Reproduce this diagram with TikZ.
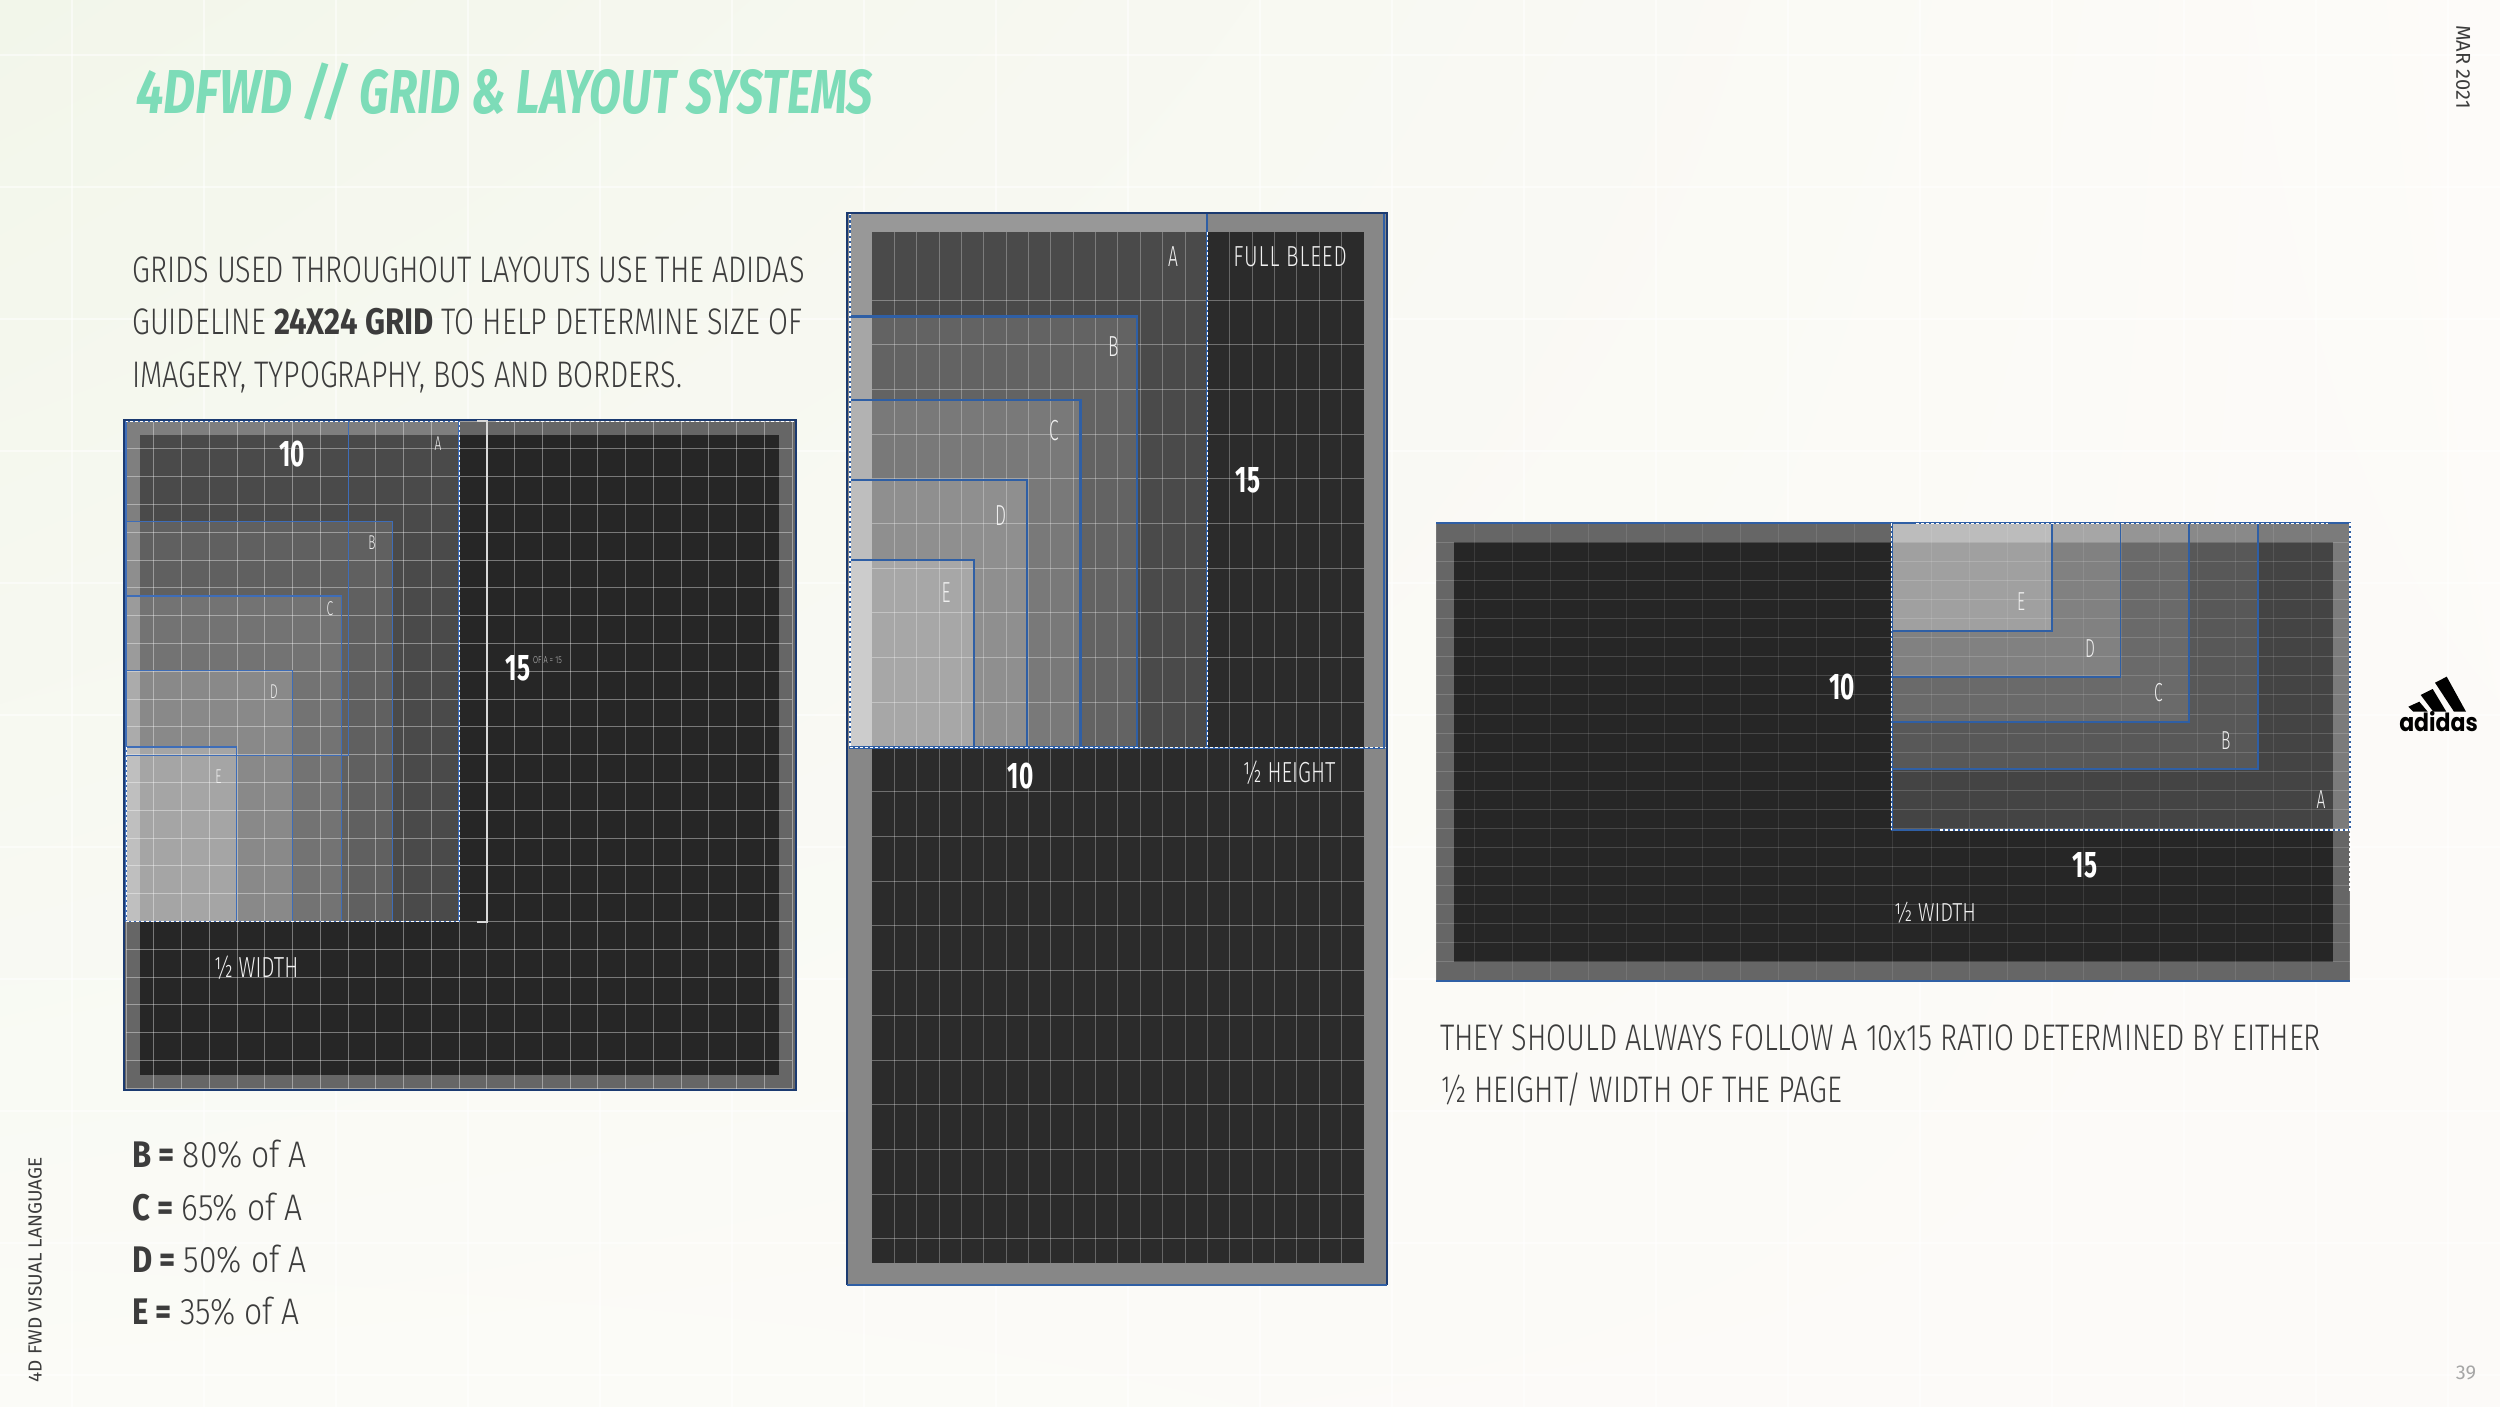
\documentclass[tikz,border=0pt]{standalone}
\usepackage{fontspec}
\setmainfont{Fira Sans}
\newfontfamily\thinfont[FakeStretch=0.78]{Fira Sans Light}
\newfontfamily\listfont[FakeStretch=0.86]{Fira Sans Light}
\newfontfamily\labelfont[FakeStretch=0.72]{Fira Sans Light}
\newfontfamily\letterfont[FakeStretch=0.60]{Fira Sans Light}
\newfontfamily\spacedfont[FakeStretch=0.72,LetterSpace=3]{Fira Sans Light}
\newfontfamily\titlefont[FakeStretch=0.748]{Fira Sans}
\newfontfamily\titleheavy[FakeStretch=0.80]{Fira Sans}
\newfontfamily\heavyfont[FakeStretch=0.84]{Fira Sans}
\newfontfamily\numfont[FakeStretch=0.66]{Fira Sans}
\newfontfamily\logofont[FakeStretch=0.88]{Poppins}
\usetikzlibrary{
    positioning,
    calc,
    shadings,
}
\definecolor{titlegreen}{HTML}{7DDCB8}
\definecolor{bodygrey}{HTML}{3C3C3C}
\definecolor{boxblue}{HTML}{2F5FA5}
\definecolor{thinblue}{HTML}{3E6DB8}
\definecolor{edgenavy}{HTML}{1B3A70}
\definecolor{labelwhite}{HTML}{F0F0F0}
\definecolor{pagetl}{HTML}{F2F6EA}
\definecolor{pagetr}{HTML}{FDFBF9}
\definecolor{pagebl}{HTML}{FBFBF7}
\definecolor{pagebr}{HTML}{FCFAF8}

\begin{document}
\begin{tikzpicture}[
    x=1pt, y=-1pt,
    label/.style={inner sep=0, text=labelwhite},
    number/.style={inner sep=0, text=white, font=\numfont\bfseries\fontsize{37}{37}\selectfont},
    bodytext/.style={inner sep=0, text=bodygrey, font=\thinfont\fontsize{37}{52.3}\selectfont, align=left},
    sidetext/.style={inner sep=0, text=bodygrey},
    bluebox/.style={draw=boxblue, line width=#1},
    dotline/.style={draw=white, line width=1.2pt, dash pattern=on 2.5pt off 2.5pt},
    ]

\useasboundingbox (0,0) rectangle (2500,1407);

% page background
\shade[upper left=pagetl, upper right=pagetr, lower left=pagebl, lower right=pagebr]
    (0,0) rectangle (2500,1407);
\foreach \x in {72,204,...,2500}
    \draw[white, opacity=.5, line width=1.5pt] (\x,0) -- (\x,1407);
\foreach \y in {55,187,...,1407}
    \draw[white, opacity=.5, line width=1.5pt] (0,\y) -- (2500,\y);

% title and texts
\node[inner sep=0, anchor=base west, text=titlegreen] at (136,114) (title)
    {\fontsize{62}{62}\selectfont\titleheavy\bfseries\itshape 4DFWD //
    \titlefont\itshape GRID \& LAYOUT SYSTEMS};

\node[bodytext, anchor=north west] at (132,256.5) (intro)
    {GRIDS USED THROUGHOUT LAYOUTS USE THE ADIDAS\\
    GUIDELINE {\heavyfont\bfseries 24X24 GRID} TO HELP DETERMINE SIZE OF\\
    IMAGERY, TYPOGRAPHY, BOS AND BORDERS.};

\foreach \ltr/\pct/\ypos in {B/80/1167.7, C/65/1220, D/50/1272.7, E/35/1324.3}
    \node[bodytext, anchor=base west] at (132,\ypos) (list\ltr)
        {{\heavyfont\bfseries \ltr\ =} {\listfont\pct\% of A}};

\node[bodytext, anchor=north west] at (1440,1024.5) (ratio)
    {THEY SHOULD ALWAYS FOLLOW A 10x15 RATIO DETERMINED BY EITHER\\
    ½ HEIGHT/ WIDTH OF THE PAGE};

\node[sidetext, rotate=-90, font=\fontsize{20}{20}\selectfont] at (2463,67) (month) {MAR 2021};
\node[sidetext, rotate=90, font=\fontsize{19}{19}\selectfont] at (35,1270) (footer) {4D FWD VISUAL LANGUAGE};
\node[inner sep=0, text=black!35, font=\fontsize{20}{20}\selectfont] at (2466,1373) (pageno) {39};

% left square
\fill[black!60] (124,420) rectangle (796,1090);
\fill[black!85] (140,435) rectangle (779,1075);
\foreach \xr/\ytop/\op in {459/421/.17, 392.5/521.7/.12, 341.5/596/.12, 292.8/670.4/.16, 236.8/747/.24}
    \fill[white, fill opacity=\op] (126,921.5) rectangle (\xr,\ytop);
\foreach \k in {0,...,24} {
    \draw[white, opacity=.38, line width=1pt] ({126.2+27.75*\k},421) -- ({126.2+27.75*\k},1089);
    \draw[white, opacity=.38, line width=1pt] (126,{421+27.8*\k}) -- (792,{421+27.8*\k});
}
\draw[thinblue, line width=1.3pt] (126,421) rectangle (348.4,755.8);
\foreach \xr/\ytop in {459/421, 392.5/521.7, 341.5/596, 292.8/670.4, 236.8/747}
    \draw[thinblue, line width=1.3pt] (126,921.5) rectangle (\xr,\ytop);
\draw[dotline, line width=1pt] (126,921.5) -- (459,921.5) -- (459,421) -- (126,421);
\draw[dotline, line width=1pt] (126,747) -- (126,921.5);
\draw[dotline, line width=1pt] (496,421) -- (794,421);
\draw[edgenavy, line width=1.6pt] (124,420) rectangle (796,1090);

\coordinate (bracktop) at (487,421);
\coordinate (brackbot) at (487,922);
\draw[white!85!black, line width=1.2pt] ($(bracktop)+(-10,0)$) -- (bracktop) -- (brackbot) -- ($(brackbot)+(-10,0)$);

\node[label, font=\letterfont\fontsize{20}{20}\selectfont] at (438,444) (lefta) {A};
\node[label, font=\letterfont\fontsize{20}{20}\selectfont] at (372,543) (leftb) {B};
\node[label, font=\letterfont\fontsize{20}{20}\selectfont] at (330,609) (leftc) {C};
\node[label, font=\letterfont\fontsize{20}{20}\selectfont] at (274,692) (leftd) {D};
\node[label, font=\letterfont\fontsize{20}{20}\selectfont] at (218.5,777) (lefte) {E};
\node[label, anchor=west, text=black!25, font=\labelfont\fontsize{10}{10}\selectfont] at (533,660) (leftnote) {OF A = 15};
\node[number] at (292,454) (leftten) {10};
\node[number] at (518,668) (leftfifteen) {15};
\node[label, font=\labelfont\fontsize{29}{29}\selectfont] at (256,968) (lefthalf) {½ WIDTH};

% middle page
\fill[black!47] (847,213) rectangle (1387,1285);
\fill[black!83] (872,232) rectangle (1364,1263);
\foreach \xr/\ytop/\op in {1207.4/213/.15, 1137/316.5/.14, 1080.5/399.6/.14, 1027/479.8/.17, 974.3/559.7/.22}
    \fill[white, fill opacity=\op] (850,747.5) rectangle (\xr,\ytop);
\foreach \k in {1,...,21}
    \draw[white, opacity=.28, line width=1pt] ({872+22.36*\k},232) -- ({872+22.36*\k},1263);
\foreach \k in {0,...,21}
    \draw[white, opacity=.32, line width=1pt] (872,{300+44.71*\k}) -- (1364,{300+44.71*\k});
\foreach \xr/\ytop in {1137/316.5, 1080.5/399.6, 1027/479.8, 974.3/559.7}
    \draw[bluebox=2.2pt] (850,747.5) rectangle (\xr,\ytop);
\draw[bluebox=2pt] (850,213) rectangle (1384,747.5);
\draw[bluebox=2pt] (1207.4,213) -- (1207.4,747.5);
\draw[dotline] (1207.4,232) -- (1207.4,747.5);
\draw[dotline] (850,747.5) -- (1387,747.5);
\draw[dotline] (850,213) -- (850,747.5);
\draw[edgenavy, line width=2.4pt] (847,1285) -- (847,213) -- (1387,213) -- (1387,1285);
\draw[boxblue, line width=1.2pt] (847,1285) -- (1387,1285);

\node[label, font=\letterfont\fontsize{29}{29}\selectfont] at (1173,257) (mida) {A};
\node[label, font=\letterfont\fontsize{29}{29}\selectfont] at (1113.4,347) (midb) {B};
\node[label, font=\letterfont\fontsize{29}{29}\selectfont] at (1054,430.4) (midc) {C};
\node[label, font=\letterfont\fontsize{29}{29}\selectfont] at (1000.5,515.4) (midd) {D};
\node[label, font=\letterfont\fontsize{29}{29}\selectfont] at (946,592.5) (mide) {E};
\node[label, font=\spacedfont\fontsize{29}{29}\selectfont] at (1290,256.4) (bleed) {FULL BLEED};
\node[number] at (1248,480.6) (midfifteen) {15};
\node[number] at (1020.5,776) (midten) {10};
\node[label, font=\labelfont\fontsize{29}{29}\selectfont] at (1289,772.4) (midhalf) {½ HEIGHT};

% right page
\fill[black!60] (1436,523.3) rectangle (2350,980.7);
\fill[black!85] (1454.4,542.3) rectangle (2332.5,961.7);
\foreach \xr/\ybot/\op in {2350/830/.14, 2258/768.7/.11, 2188.6/722.3/.11, 2120.4/677/.16, 2052/631.3/.25}
    \fill[white, fill opacity=\op] (1891.8,523.3) rectangle (\xr,\ybot);
\foreach \k in {0,...,24} {
    \draw[white, opacity=.1, line width=1pt] ({1436+38.08*\k},524) -- ({1436+38.08*\k},980);
    \draw[white, opacity=.16, line width=1pt] (1436,{523.5+19.05*\k}) -- (2350,{523.5+19.05*\k});
}
\foreach \xr/\ybot in {2258/768.7, 2188.6/722.3, 2120.4/677, 2052/631.3}
    \draw[bluebox=1.8pt] (1891.8,523.3) rectangle (\xr,\ybot);
\draw[boxblue, line width=2pt] (1436,523.3) -- (2350,523.3);
\draw[boxblue, line width=1.6pt] (1436,980.7) -- (2350,980.7);
\draw[bluebox=1.8pt] (1891.8,523.3) rectangle (2350,830);
\draw[dotline] (1916,523.3) -- (2328,523.3);
\draw[dotline] (1891.8,523.3) -- (1891.8,830);
\draw[dotline] (1940,830) -- (2350,830);
\draw[dotline] (2350,523.3) -- (2350,893);

\node[label, font=\letterfont\fontsize{26}{26}\selectfont] at (2321,799.3) (righta) {A};
\node[label, font=\letterfont\fontsize{26}{26}\selectfont] at (2225.8,740.7) (rightb) {B};
\node[label, font=\letterfont\fontsize{26}{26}\selectfont] at (2158.3,692.7) (rightc) {C};
\node[label, font=\letterfont\fontsize{26}{26}\selectfont] at (2090,648.3) (rightd) {D};
\node[label, font=\letterfont\fontsize{26}{26}\selectfont] at (2021,601.7) (righte) {E};
\node[number] at (1842,687.3) (rightten) {10};
\node[number] at (2085,865.7) (rightfifteen) {15};
\node[label, font=\thinfont\fontsize{26}{26}\selectfont] at (1935,912.3) (righthalf) {½ WIDTH};

% logo
\fill[black] (2408.3,706.7) -- (2419.3,701.7) -- (2427.7,711.7) -- (2413.3,711.7) -- cycle;
\fill[black] (2420.7,695) -- (2432.7,689) -- (2446.3,711.7) -- (2433.3,711.7) -- cycle;
\fill[black] (2435,682.7) -- (2446.7,676.7) -- (2466,711.7) -- (2454,711.7) -- cycle;
\node[inner sep=0, anchor=base, text=black, font=\logofont\bfseries\fontsize{25}{25}\selectfont] at (2438.5,731) (logo) {adidas};

\end{tikzpicture}
\end{document}
